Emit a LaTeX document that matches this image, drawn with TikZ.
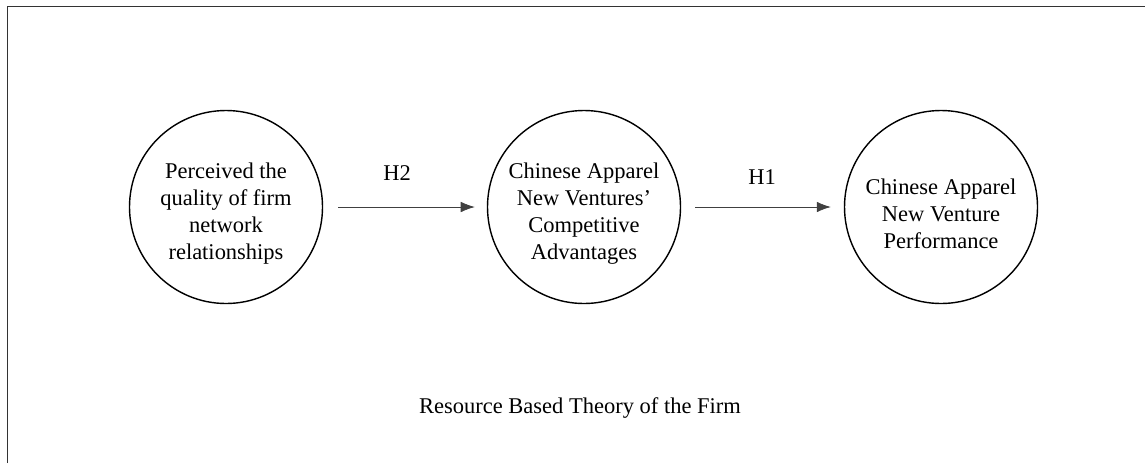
\documentclass[tikz,border=0pt]{standalone}
\usepackage{fontspec}
\setmainfont{Liberation Serif}
\usetikzlibrary{arrows.meta}
\tikzset{
  construct/.style={circle,draw,thick,minimum size=3.86cm,inner sep=0pt,
    label={[align=center,yshift=-0.13cm,font=\fontsize{12.8}{15.3}\selectfont]center:#1}},
  hypo/.style={font=\fontsize{12.8}{15.3}\selectfont},
  link/.style={-{Latex[length=8pt,width=6pt]},draw=black!75,thin}
}
\begin{document}
\begin{tikzpicture}
      \useasboundingbox (0,0) rectangle (22.9,-9.26);
      \draw[black!80] (0.14,-9.26) -- (0.14,-0.12) -- (22.9,-0.12);
      \draw
        (4.52,-4.14) node[construct={Perceived the\\quality of firm\\network\\relationships}] (perc){}
        (11.68,-4.14) node[construct={Chinese Apparel\\New Ventures'\\Competitive\\Advantages}] (adv){}
        (18.82,-4.14) node[construct={Chinese Apparel\\New Venture\\Performance}] (perf){}
        (7.94,-3.46) node[hypo] (h2){H2}
        (15.24,-3.54) node[hypo] (h1){H1}
        (11.6,-8.16) node[hypo] (rbt){Resource Based Theory of the Firm};
      \begin{scope}[link]
        \draw[shorten <=0.3cm,shorten >=0.24cm] (perc) to (adv);
        \draw[shorten <=0.28cm,shorten >=0.26cm] (adv) to (perf);
      \end{scope}
    \end{tikzpicture}
\end{document}
